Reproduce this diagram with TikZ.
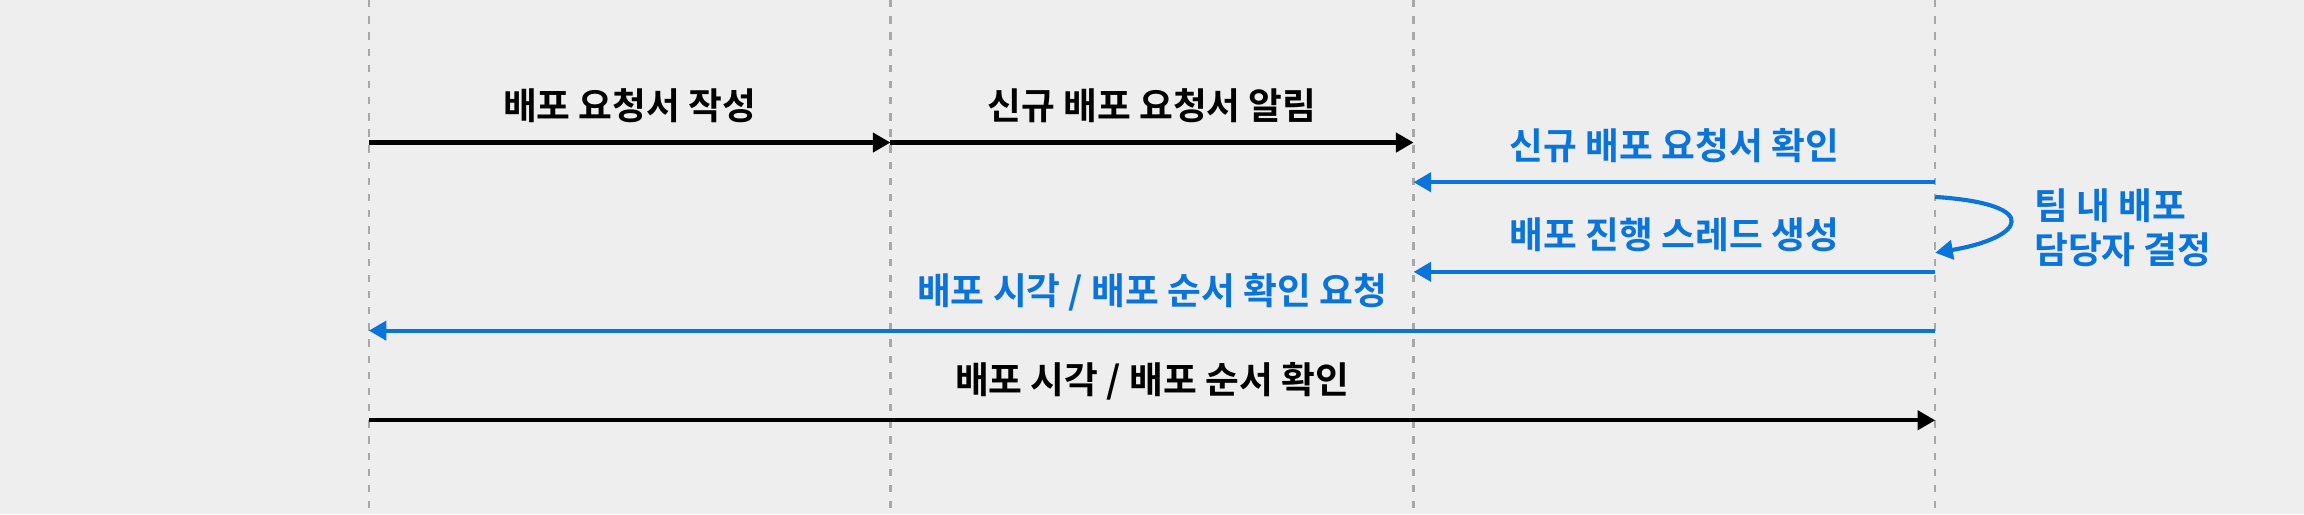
\documentclass[tikz,border=0pt]{standalone}
\usepackage{fontspec}
\setmainfont{Noto Sans CJK KR}[BoldFont={* Bold}]
\usetikzlibrary{arrows.meta}
\definecolor{bg}{HTML}{EEEEEE}
\definecolor{bl}{HTML}{0A74DA}
\definecolor{ll}{HTML}{A8A8A8}
\tikzset{
 msg/.style={line width=1.4pt,-{Triangle[length=6pt,width=6.5pt]}},
 lab/.style={font=\bfseries\fontsize{12.5}{14}\selectfont,inner sep=0},
 life/.style={ll,line width=0.8pt,dash pattern=on 2.5pt off 3pt}
}
\begin{document}
\begin{tikzpicture}[x=0.5pt,y=-0.5pt]
\fill[bg] (0,0) rectangle (1568,350);
\useasboundingbox (0,0) rectangle (1568,350);
\foreach \n/\x in {a/251,b/606,c/962,d/1317}{
  \coordinate (\n t) at (\x,0); \coordinate (\n b) at (\x,350);
  \draw[life] (\n t) -- (\n b);
  \foreach \y in {97,124,134,172,185,225,286}{\coordinate (\n\y) at (\x,\y);}
}
\draw[msg] (a97) -- node[lab,above=6pt]{배포 요청서 작성} (b97);
\draw[msg] (b97) -- node[lab,above=6pt]{신규 배포 요청서 알림} (c97);
\draw[msg,bl] (d124) -- node[lab,above=6pt]{신규 배포 요청서 확인} (c124);
\draw[msg,bl] (d134) .. controls +(75,5) and +(60,-10) .. (d172);
\node[lab,bl,align=left,anchor=west,font=\bfseries\fontsize{12.5}{15}\selectfont] (self) at (1384,155) {팀 내 배포\\담당자 결정};
\draw[msg,bl] (d185) -- node[lab,above=6pt]{배포 진행 스레드 생성} (c185);
\draw[msg,bl] (d225) -- node[lab,above=6pt]{배포 시각 / 배포 순서 확인 요청} (a225);
\draw[msg] (a286) -- node[lab,above=6pt]{배포 시각 / 배포 순서 확인} (d286);
\end{tikzpicture}
\end{document}
